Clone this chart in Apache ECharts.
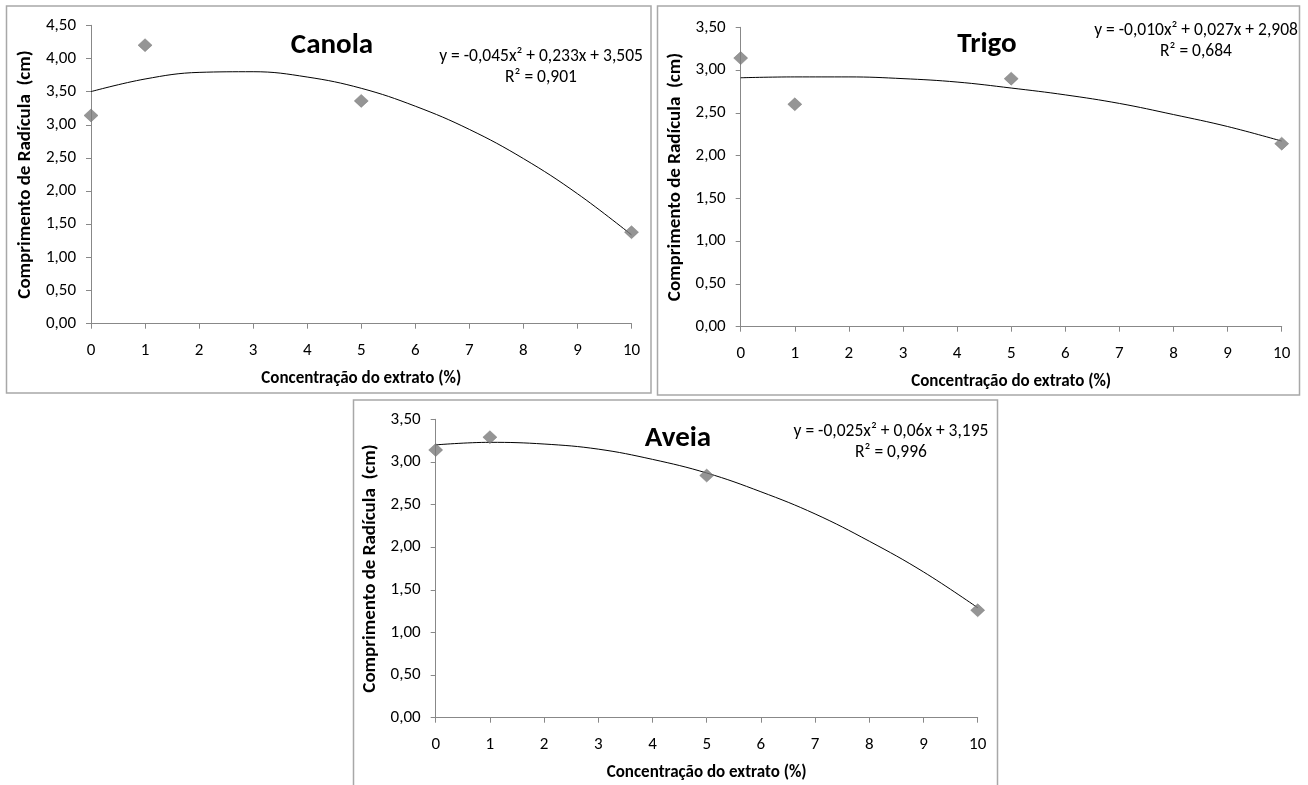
<!DOCTYPE html>
<html>
<head>
<meta charset="utf-8">
<script src="https://cdn.jsdelivr.net/npm/echarts@6/dist/echarts.min.js"></script>
<style>
html,body{margin:0;padding:0;background:#fff;}
#c{width:1308px;height:785px;}
</style>
</head>
<body>
<div id="c"></div>
<script>
// ---- data ----
const xValues = [0, 1, 5, 10];
const canolaY = [3.14, 4.20, 3.36, 1.38];
const trigoY  = [3.14, 2.60, 2.90, 2.14];
const aveiaY  = [3.14, 3.29, 2.84, 1.26];

// fitted trend curves, read at integer concentrations
const trendX = [0, 1, 2, 3, 4, 5, 6, 7, 8, 9, 10];
const canolaTrend = [3.50, 3.69, 3.79, 3.80, 3.72, 3.55, 3.28, 2.93, 2.49, 1.96, 1.34];
const trigoTrend  = [2.91, 2.92, 2.92, 2.90, 2.86, 2.79, 2.71, 2.61, 2.48, 2.34, 2.17];
const aveiaTrend  = [3.20, 3.23, 3.21, 3.15, 3.03, 2.87, 2.65, 2.39, 2.07, 1.71, 1.29];

const panelTitles = ['Canola', 'Trigo', 'Aveia'];
const equations = [
  'y = -0,045x² + 0,233x + 3,505\nR² = 0,901',
  'y = -0,010x² + 0,027x + 2,908\nR² = 0,684',
  'y = -0,025x² + 0,06x + 3,195\nR² = 0,996'
];
const yMax = [4.5, 3.5, 3.5];
const xTitle = 'Concentração do extrato (%)';
const yTitle = 'Comprimento de Radícula  (cm)';

// ---- layout ----
const FONT = 'Carlito, "Open Sans", "Liberation Sans", sans-serif';
const grids = [
  {left: 91, top: 25.3, width: 540.5, height: 298.4},
  {left: 740.7, top: 27.3, width: 541, height: 299.4},
  {left: 435.7, top: 419.3, width: 542, height: 298.4}
];
const titlePos = [[327, 43], [982, 42], [673, 436]];
const eqPos = [[536, 52], [1191, 26], [886, 427]];

const pts = [canolaY, trigoY, aveiaY];
const trends = [canolaTrend, trigoTrend, aveiaTrend];

const axisColor = '#888888';
const xAxes = [], yAxes = [], series = [], titles = [];
grids.forEach((g, i) => {
  xAxes.push({
    type: 'value', gridIndex: i, min: 0, max: 10, interval: 1,
    axisLine: {show: true, lineStyle: {color: axisColor, width: 1}},
    axisTick: {show: true, inside: false, length: 5, lineStyle: {color: axisColor}},
    splitLine: {show: false},
    axisLabel: {color: '#000', fontFamily: FONT, fontSize: 17, margin: 19},
    name: xTitle, nameLocation: 'middle', nameGap: 47,
    nameTextStyle: {color: '#000', fontFamily: FONT, fontSize: 17, fontWeight: 'bold'}
  });
  yAxes.push({
    type: 'value', gridIndex: i, min: 0, max: yMax[i], interval: 0.5,
    axisLine: {show: true, lineStyle: {color: axisColor, width: 1}},
    axisTick: {show: true, inside: false, length: 5, lineStyle: {color: axisColor}},
    splitLine: {show: false},
    axisLabel: {color: '#000', fontFamily: FONT, fontSize: 17, margin: 15,
      formatter: v => v.toFixed(2).replace('.', ',')},
    name: yTitle, nameLocation: 'middle', nameGap: 56, nameRotate: 90,
    nameTextStyle: {color: '#000', fontFamily: FONT, fontSize: 19, fontWeight: 'bold'}
  });
  series.push({
    type: 'line', xAxisIndex: i, yAxisIndex: i, smooth: 0.4, symbol: 'none',
    lineStyle: {color: '#000', width: 1}, silent: true, z: 2,
    data: trendX.map((x, k) => [x, trends[i][k]])
  });
  series.push({
    type: 'scatter', xAxisIndex: i, yAxisIndex: i, symbol: 'diamond',
    symbolSize: [14, 13], z: 3,
    itemStyle: {color: '#7a7a7a', borderColor: '#6a6a6a', borderWidth: 0.5},
    data: xValues.map((x, k) => [x, pts[i][k]])
  });
  titles.push({
    text: panelTitles[i], left: titlePos[i][0], top: titlePos[i][1] - 17, textAlign: 'center',
    textStyle: {fontFamily: FONT, fontSize: 29, fontWeight: 'bold', color: '#000'}
  });
  titles.push({
    text: equations[i], left: eqPos[i][0], top: eqPos[i][1] - 11, textAlign: 'center',
    textStyle: {fontFamily: FONT, fontSize: 17.5, fontWeight: 'normal', color: '#000', lineHeight: 21, align: 'center'}
  });
});

const chart = echarts.init(document.getElementById('c'), null, {renderer: 'canvas'});
chart.setOption({
  animation: false,
  backgroundColor: '#fff',
  title: titles,
  grid: grids,
  xAxis: xAxes,
  yAxis: yAxes,
  series: series,
  graphic: [
    {type: 'rect', shape: {x: 6.5, y: 6, width: 644.5, height: 387}, style: {fill: null, stroke: '#a8a8a8', lineWidth: 1.5}, silent: true},
    {type: 'rect', shape: {x: 657.5, y: 6, width: 642, height: 389}, style: {fill: null, stroke: '#a8a8a8', lineWidth: 1.5}, silent: true},
    {type: 'rect', shape: {x: 353.5, y: 400, width: 644, height: 400}, style: {fill: null, stroke: '#a8a8a8', lineWidth: 1.5}, silent: true}
  ]
});
</script>
</body>
</html>
